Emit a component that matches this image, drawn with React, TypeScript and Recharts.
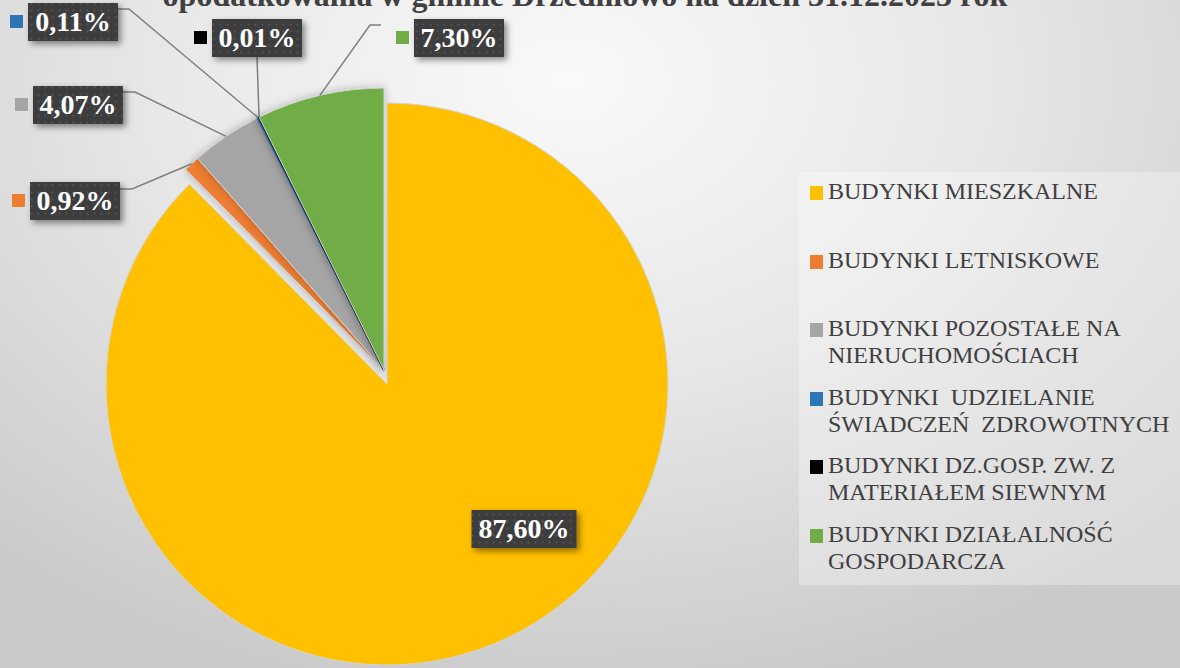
import * as React from "react";
import { PieChart, Pie, Cell } from "recharts";

// udział procentowy budynków wg rodzaju
const categories = [
  "BUDYNKI MIESZKALNE",
  "BUDYNKI LETNISKOWE",
  "BUDYNKI POZOSTAŁE NA NIERUCHOMOŚCIACH",
  "BUDYNKI  UDZIELANIE ŚWIADCZEŃ  ZDROWOTNYCH",
  "BUDYNKI DZ.GOSP. ZW. Z MATERIAŁEM SIEWNYM",
  "BUDYNKI DZIAŁALNOŚĆ GOSPODARCZA",
];
// legend lines as they wrap in the original
const legendLines = [
  ["BUDYNKI MIESZKALNE"],
  ["BUDYNKI LETNISKOWE"],
  ["BUDYNKI POZOSTAŁE NA", "NIERUCHOMOŚCIACH"],
  ["BUDYNKI  UDZIELANIE", "ŚWIADCZEŃ  ZDROWOTNYCH"],
  ["BUDYNKI DZ.GOSP. ZW. Z", "MATERIAŁEM SIEWNYM"],
  ["BUDYNKI DZIAŁALNOŚĆ", "GOSPODARCZA"],
];
const shares = [87.6, 0.92, 4.07, 0.11, 0.01, 7.3];
const colors = ["#FFC000", "#ED7D31", "#A5A5A5", "#2E75B6", "#000000", "#70AD47"];

const title = "opodatkowania w gminie Drzedniowo na dzień 31.12.2023 rok";

const data = categories.map((name, i) => ({ name, value: shares[i] }));

// hand placed data label boxes (centre) and leader elbows, like in the source
const labelAt = [
  { x: 524, y: 529 },
  { x: 75, y: 201 },
  { x: 78, y: 105 },
  { x: 73, y: 22 },
  { x: 257, y: 38 },
  { x: 459, y: 38 },
];
const elbows: number[][][] = [
  [],
  [[120, 189], [132, 189]],
  [[123, 92], [135, 92]],
  [[118, 9], [129, 9]],
  [[257, 57]],
  [[381, 25], [370, 25]],
];

const RAD = Math.PI / 180;
const fmt = (v: number) => v.toFixed(2).replace(".", ",") + "%";
const serif = "'Liberation Serif', 'Times New Roman', serif";

function makeLabel(only: number[]) {
  return (props: any) => {
    const { cx, cy, midAngle, outerRadius, index, value } = props;
    if (!only.includes(index)) return null;
    const pos = labelAt[index];
    const txt = fmt(value);
    const w = txt.length * 15 + 15;
    const h = 38;
    const ax = cx + outerRadius * Math.cos(-midAngle * RAD);
    const ay = cy + outerRadius * Math.sin(-midAngle * RAD);
    const pts = [[ax, ay], ...elbows[index].slice().reverse()];
    return (
      <g key={"lbl-" + index}>
        {elbows[index].length > 0 && (
          <polyline
            points={pts.map((p) => p.join(",")).join(" ")}
            fill="none"
            stroke="#7f7f7f"
            strokeWidth={1.5}
          />
        )}
        {index > 0 && (
          <rect x={pos.x - w / 2 - 18} y={pos.y - 7} width={13} height={13} fill={colors[index]} />
        )}
        <rect
          x={pos.x - w / 2}
          y={pos.y - h / 2}
          width={w}
          height={h}
          fill="url(#dots)"
          filter="url(#boxShadow)"
        />
        <text
          x={pos.x}
          y={pos.y + 9}
          textAnchor="middle"
          fill="#ffffff"
          fontFamily={serif}
          style={{ fontFamily: serif, fontWeight: "bold", fontSize: 28 }}
        >
          {txt}
        </text>
      </g>
    );
  };
}

function ChartLegend() {
  return (
    <div
      style={{
        position: "absolute",
        left: 799,
        top: 172,
        width: 381,
        height: 413,
        background: "rgba(255,255,255,0.3)",
        fontFamily: serif,
        fontSize: 24,
        color: "#404040",
      }}
    >
      {legendLines.map((lines, i) => (
        <div
          key={i}
          style={{ position: "absolute", left: 11, top: 6 + i * 68.6, display: "flex" }}
        >
          <div
            style={{ width: 13, height: 14, background: colors[i], marginTop: 8, marginRight: 5, flexShrink: 0 }}
          />
          <div style={{ lineHeight: "27px", whiteSpace: "pre" }}>
            {lines.map((l, j) => (
              <div key={j}>{l}</div>
            ))}
          </div>
        </div>
      ))}
    </div>
  );
}

export default function App() {
  return (
    <div
      style={{
        position: "absolute",
        left: 0,
        top: 0,
        width: 1180,
        height: 668,
        overflow: "hidden",
        background:
          "radial-gradient(ellipse 75% 95% at 48% 12%, #f9f9f9 0%, #e8e8e8 45%, #c9c9c9 100%)",
      }}
    >
      <svg width={0} height={0} style={{ position: "absolute" }}>
        <defs>
          <pattern id="dots" width={7} height={7} patternUnits="userSpaceOnUse">
            <rect width={7} height={7} fill="#3e3e3e" />
            <circle cx={3.5} cy={3.5} r={0.9} fill="#565656" />
          </pattern>
          <filter id="boxShadow" x="-20%" y="-20%" width="150%" height="160%">
            <feDropShadow dx={3} dy={3} stdDeviation={3} floodColor="#000" floodOpacity={0.45} />
          </filter>
          <filter id="pieShadow" x="-10%" y="-10%" width="120%" height="120%">
            <feDropShadow dx={0} dy={0} stdDeviation={4} floodColor="#000" floodOpacity={0.25} />
          </filter>
        </defs>
      </svg>
      <div
        style={{
          position: "absolute",
          left: 0,
          top: -23,
          width: 1170,
          textAlign: "center",
          fontFamily: serif,
          fontWeight: "bold",
          fontSize: 32,
          lineHeight: "37px",
          color: "#404040",
          whiteSpace: "nowrap",
        }}
      >
        {title}
      </div>
      <ChartLegend />
      <PieChart
        width={1180}
        height={668}
        margin={{ top: 0, right: 0, bottom: 0, left: 0 }}
        style={{ position: "absolute", left: 0, top: 0 }}
      >
        <Pie
          data={data}
          dataKey="value"
          nameKey="name"
          cx={384}
          cy={370}
          outerRadius={282}
          startAngle={90}
          endAngle={-270}
          isAnimationActive={false}
          labelLine={false}
          label={makeLabel([1, 2, 3, 4, 5])}
          style={{ filter: "url(#pieShadow)" }}
        >
          {data.map((d, i) => (
            <Cell
              key={i}
              fill={i === 0 ? "transparent" : colors[i]}
              stroke={i === 0 ? "none" : i >= 3 && i <= 4 ? colors[i] : "#d4d4d4"}
              strokeWidth={i === 4 ? 2 : i === 3 ? 1.5 : 1}
            />
          ))}
        </Pie>
        <Pie
          data={data}
          dataKey="value"
          nameKey="name"
          cx={387}
          cy={384}
          outerRadius={281}
          startAngle={90}
          endAngle={-270}
          isAnimationActive={false}
          labelLine={false}
          label={makeLabel([0])}
        >
          {data.map((d, i) => (
            <Cell
              key={i}
              fill={i === 0 ? colors[0] : "transparent"}
              stroke={i === 0 ? "#d4d4d4" : "none"}
              strokeWidth={1}
            />
          ))}
        </Pie>
      </PieChart>
    </div>
  );
}
